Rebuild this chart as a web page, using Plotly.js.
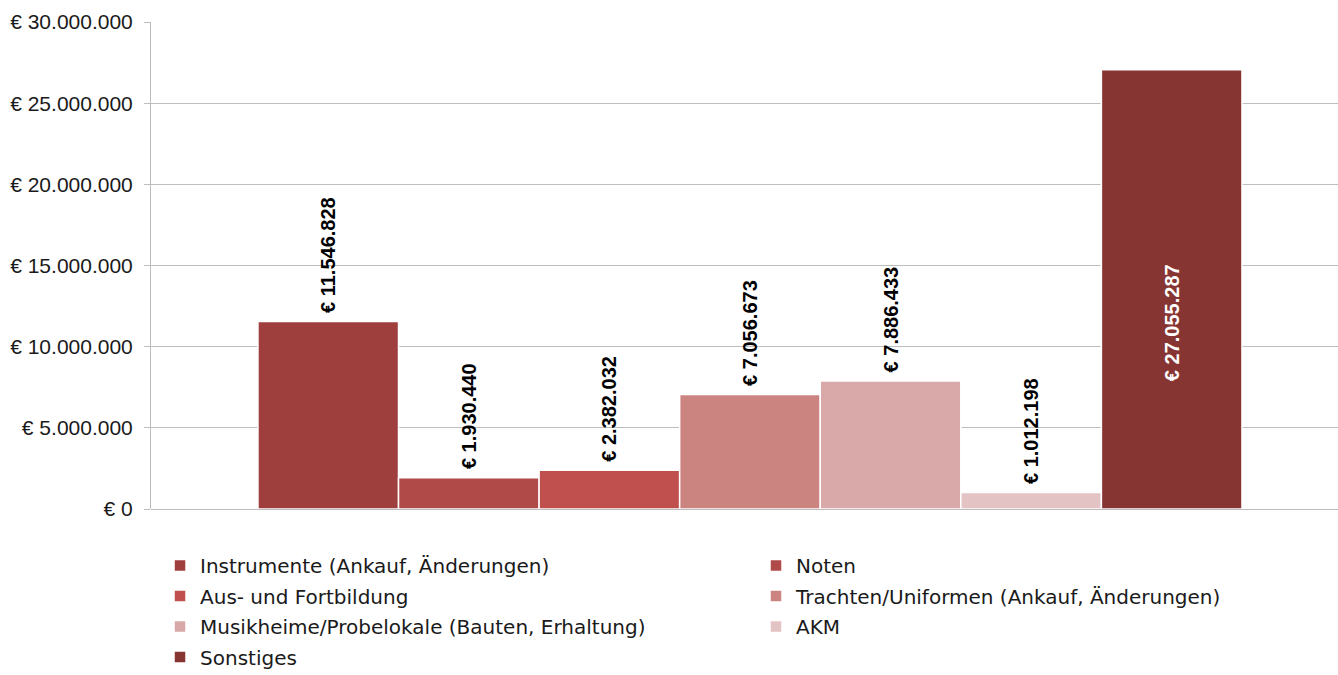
<!DOCTYPE html>
<html>
<head>
<meta charset="utf-8">
<script src="https://cdn.plot.ly/plotly-3.0.1.min.js"></script>
<style>html,body{margin:0;padding:0;background:#fff;}#chart{width:1338px;height:675px;}</style>
</head>
<body>
<div id="chart"></div>
<script>
const category = ["Ausgaben"];
const seriesNames = [
  "Instrumente (Ankauf, Änderungen)",
  "Noten",
  "Aus- und Fortbildung",
  "Trachten/Uniformen (Ankauf, Änderungen)",
  "Musikheime/Probelokale (Bauten, Erhaltung)",
  "AKM",
  "Sonstiges"
];
const seriesValues = [11546828, 1930440, 2382032, 7056673, 7886433, 1012198, 27055287];
const seriesColors = ["#9E3F3E", "#B04A48", "#C0504D", "#CC8481", "#D9A8A8", "#E3C3C3", "#873533"];
const legendOf = ["legend", "legend2", "legend", "legend2", "legend", "legend2", "legend"];
const yTickVals = [0, 5000000, 10000000, 15000000, 20000000, 25000000, 30000000];
const yTickText = ["€ 0", "€ 5.000.000", "€ 10.000.000", "€ 15.000.000", "€ 20.000.000", "€ 25.000.000", "€ 30.000.000"];

const insideIdx = 6;
const NB = "\u00A0";
const traces = seriesNames.map((name, i) => ({
  type: "bar",
  name: name,
  x: category,
  y: [seriesValues[i]],
  legend: legendOf[i],
  legendgroup: name,
  marker: {color: seriesColors[i], line: {color: "#ffffff", width: 1.5}},
  texttemplate: i === insideIdx ? "€ %{y:,.0f}" + NB.repeat(12) : NB + "€ %{y:,.0f}",
  textposition: i === insideIdx ? "inside" : "outside",
  insidetextanchor: "middle",
  textangle: -90,
  textfont: {family: "Liberation Sans, Arial, sans-serif", size: 20, color: i === insideIdx ? "#ffffff" : "#000000", weight: "bold"},
  cliponaxis: false,
  hoverinfo: "name+y"
}));

const legendFont = {family: "DejaVu Sans, sans-serif", size: 20, color: "#1a1a1a"};
const layout = {
  width: 1338,
  height: 675,
  margin: {l: 151, r: 0, t: 22, b: 166, autoexpand: false},
  paper_bgcolor: "#ffffff",
  plot_bgcolor: "#ffffff",
  separators: ",.",
  barmode: "group",
  bargap: 0.171,
  bargroupgap: 0,
  showlegend: true,
  xaxis: {
    range: [-0.5046, 0.4954],
    showticklabels: false,
    showgrid: false,
    showline: false,
    zeroline: false,
    ticks: ""
  },
  yaxis: {
    range: [0, 30000000],
    tickvals: yTickVals,
    ticktext: yTickText,
    showgrid: true,
    gridcolor: "#BDBDBD",
    gridwidth: 1,
    zeroline: true,
    zerolinecolor: "#BDBDBD",
    zerolinewidth: 1,
    showline: true,
    linecolor: "#BDBDBD",
    linewidth: 1,
    ticks: "outside",
    ticklen: 6,
    tickcolor: "#BDBDBD",
    ticklabelstandoff: 7,
    tickfont: {family: "Liberation Sans, Arial, sans-serif", size: 21, color: "#1a1a1a"}
  },
  legend: {
    x: 0.0076, xanchor: "left",
    y: -0.076, yanchor: "top",
    orientation: "v",
    traceorder: "grouped",
    tracegroupgap: 1.5,
    font: legendFont,
    bgcolor: "rgba(0,0,0,0)"
  },
  legend2: {
    x: 0.5097, xanchor: "left",
    y: -0.076, yanchor: "top",
    orientation: "v",
    traceorder: "grouped",
    tracegroupgap: 1.5,
    font: legendFont,
    bgcolor: "rgba(0,0,0,0)"
  }
};

Plotly.newPlot("chart", traces, layout, {displayModeBar: false, staticPlot: true});
</script>
</body>
</html>
